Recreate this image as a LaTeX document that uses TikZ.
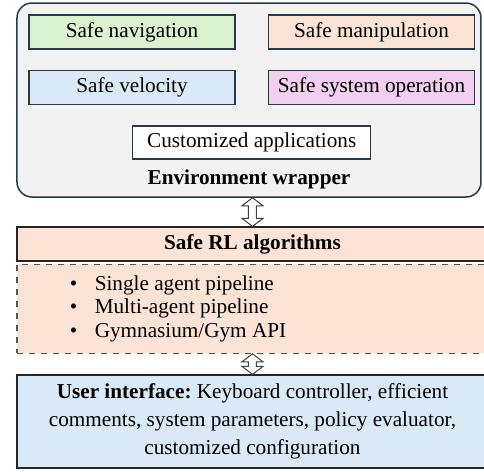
\documentclass[tikz,border=0pt]{standalone}
\usepackage{fontspec}
\setmainfont{Liberation Serif}
\usepackage{xcolor}
\usetikzlibrary{calc}
\usetikzlibrary{positioning}
\frenchspacing

\definecolor{edgeslate}{HTML}{243B4A}
\definecolor{wrapgray}{HTML}{F2F2F2}
\definecolor{navgreen}{HTML}{DAF2D0}
\definecolor{manpeach}{HTML}{FBE3D6}
\definecolor{velblue}{HTML}{DAE9F7}
\definecolor{syspink}{HTML}{F2CEEF}
\definecolor{dashgray}{HTML}{555555}

\begin{document}
\begin{tikzpicture}[x=0.5pt,y=-0.5pt,font=\fontsize{10.6}{12.4}\selectfont]
  \tikzstyle{app}=[draw=edgeslate, line width=0.75pt, minimum width=103pt, minimum height=17pt, inner sep=0pt]
  \tikzstyle{wrapbox}=[draw=edgeslate, fill=wrapgray, line width=0.75pt, rounded corners=7.5pt, minimum width=232pt, minimum height=97pt]
  \tikzstyle{band}=[fill=manpeach, minimum width=235.5pt, inner sep=0pt]
  \tikzstyle{dblarrow}=[draw=black!75, fill=white, line width=0.5pt,
      to path={let \p1=(\tikztostart), \p2=(\tikztotarget) in
        (\x2,\y1) -- ++(5.25pt,-4pt) -- ++(-3.25pt,0) -- (\x2+2pt,\y2+4pt) -- ++(3.25pt,0)
        -- (\x2,\y2) -- ++(-5.25pt,4pt) -- ++(3.25pt,0) -- (\x2-2pt,\y1-4pt) -- ++(-3.25pt,0) -- cycle}]
  \useasboundingbox (0,0) rectangle (484,472);

  % environment wrapper
  \node[wrapbox] (wrap) at (249,100) {};
  \node[app, fill=navgreen] (nav) at (132,32) {Safe navigation};
  \node[app, fill=manpeach] (manip) [right=16pt of nav] {Safe manipulation};
  \node[app, fill=velblue] (vel) [below=10pt of nav] {Safe velocity};
  \node[app, fill=syspink] (sysop) [below=10pt of manip] {Safe system operation};
  \node[app, fill=white, minimum width=119pt, minimum height=16.5pt, anchor=north]
      (custom) at ($($(vel.south)!0.5!(sysop.south)$)+(0,-10pt)$) {Customized applications};
  \node[font=\fontsize{10.6}{12.4}\selectfont\bfseries, anchor=south] (wraplabel)
      at ($(wrap.south)+(0,0.6pt)$) {Environment wrapper};

  % algorithms
  \node[band, draw=black!85, line width=0.6pt, minimum height=17pt] (rl) at (252.5,244)
      {\bfseries Safe RL algorithms};
  \node[band, draw=dashgray, dashed, line width=0.6pt, minimum height=44.5pt, anchor=north]
      (list) at ($(rl.south)+(0,-1pt)$) {};
  \node[anchor=west, align=left, inner sep=0pt, font=\fontsize{10.6}{11.8}\selectfont] (items)
      at ($(list.west)+(26.5pt,0)$)
      {\makebox[12.5pt][l]{\textbullet}Single agent pipeline\\
       \makebox[12.5pt][l]{\textbullet}Multi-agent pipeline\\
       \makebox[12.5pt][l]{\textbullet}Gymnasium/Gym API};

  % user interface
  \node[band, fill=velblue, draw=black!85, line width=0.6pt, minimum height=46.5pt,
      align=center, font=\fontsize{10.6}{14}\selectfont] (ui) at (252.5,421.5)
      {\textbf{User interface:} Keyboard controller, efficient\\
       comments, system parameters, policy evaluator,\\
       customized configuration};

  \path[dblarrow] (wrap.south) to (rl.north);
  \path[dblarrow] (list.south) to (ui.north);
\end{tikzpicture}
\end{document}
